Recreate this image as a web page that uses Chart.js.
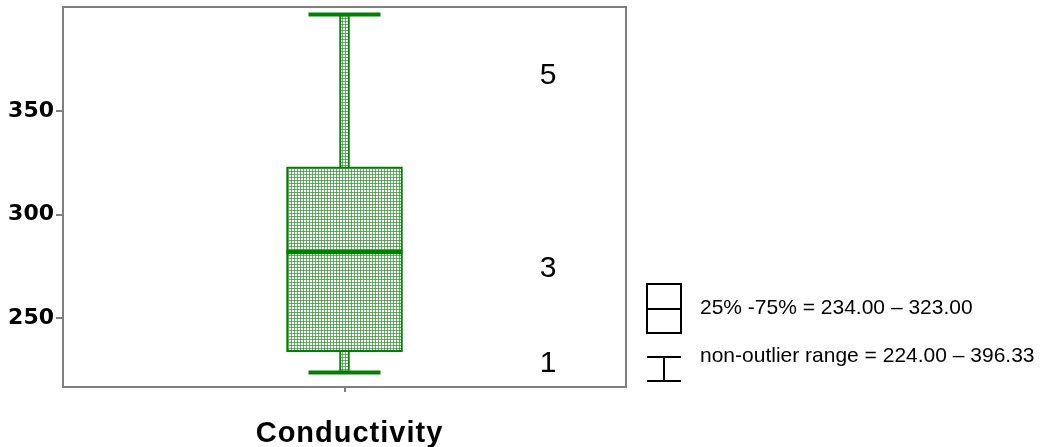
<!DOCTYPE html>
<html>
<head>
<meta charset="utf-8">
<script src="https://cdn.jsdelivr.net/npm/chart.js@4.4.1/dist/chart.umd.min.js"></script>
<style>
  html, body { margin: 0; padding: 0; background: #fff; }
  #wrap { width: 1040px; height: 447px; }
</style>
</head>
<body>
<div id="wrap"><canvas id="boxChart" width="1040" height="447"></canvas></div>
<script>
// Data
const categories = ["Conductivity"];
const q1Values = [234.00];
const q3Values = [323.00];
const medianValues = [282];
const minValues = [224.00];
const maxValues = [396.33];
const yTickValues = [250, 300, 350];
const caseLabels = ["5", "3", "1"];
const caseLabelValues = [363, 270, 224];
const legendTexts = ["25% -75% = 234.00 \u2013 323.00", "non-outlier range = 224.00 \u2013 396.33"];

const green = "#008000";
const frameGrey = "#7f7f7f";
const sansFont = "'Liberation Sans', Arial, sans-serif";

// Checkered green fill like the original hatch
function makePattern() {
  const c = document.createElement("canvas");
  c.width = 3;
  c.height = 3;
  const g = c.getContext("2d");
  g.fillStyle = "#ffffff";
  g.fillRect(0, 0, 3, 3);
  g.fillStyle = "rgb(105,182,105)";
  g.fillRect(0, 0, 3, 1);
  g.fillRect(0, 0, 1, 3);
  g.fillStyle = "rgb(60,150,60)";
  g.fillRect(0, 0, 1, 1);
  return g.createPattern(c, "repeat");
}
const hatch = makePattern();

// Median line, whisker caps, frame, labels, legend, title
const boxExtras = {
  id: "boxExtras",
  beforeDraw(chart) {
    const ctx = chart.ctx;
    ctx.save();
    ctx.fillStyle = "#ffffff";
    ctx.fillRect(0, 0, chart.width, chart.height);
    ctx.restore();
  },
  afterDatasetsDraw(chart) {
    const ctx = chart.ctx;
    const x = chart.scales.x;
    const y = chart.scales.y;
    ctx.save();
    ctx.strokeStyle = green;
    categories.forEach((cat, i) => {
      const cx = x.getPixelForValue(i);
      // median
      ctx.lineWidth = 4.5;
      ctx.beginPath();
      ctx.moveTo(cx - 58, y.getPixelForValue(medianValues[i]));
      ctx.lineTo(cx + 58, y.getPixelForValue(medianValues[i]));
      ctx.stroke();
      // caps
      ctx.lineWidth = 4;
      [minValues[i], maxValues[i]].forEach(v => {
        const py = y.getPixelForValue(v);
        ctx.beginPath();
        ctx.moveTo(cx - 36, py);
        ctx.lineTo(cx + 36, py);
        ctx.stroke();
      });
    });
    ctx.restore();
  },
  afterDraw(chart) {
    const ctx = chart.ctx;
    const a = chart.chartArea;
    const x = chart.scales.x;
    const y = chart.scales.y;
    ctx.save();
    // frame
    ctx.strokeStyle = frameGrey;
    ctx.lineWidth = 2;
    ctx.strokeRect(a.left, a.top, a.right - a.left, a.bottom - a.top);

    // case labels inside the plot
    ctx.fillStyle = "#000";
    ctx.font = "30px " + sansFont;
    ctx.textAlign = "center";
    ctx.textBaseline = "alphabetic";
    caseLabels.forEach((t, i) => {
      ctx.fillText(t, a.right - 78, y.getPixelForValue(caseLabelValues[i]));
    });

    // legend
    const lx = a.right + 21;
    ctx.strokeStyle = "#000";
    ctx.lineWidth = 2;
    ctx.strokeRect(lx, 284, 34, 49);
    ctx.beginPath();
    ctx.moveTo(lx, 309);
    ctx.lineTo(lx + 34, 309);
    ctx.moveTo(lx, 357);
    ctx.lineTo(lx + 34, 357);
    ctx.moveTo(lx + 17, 357);
    ctx.lineTo(lx + 17, 381);
    ctx.moveTo(lx, 381);
    ctx.lineTo(lx + 34, 381);
    ctx.stroke();
    ctx.font = "21px " + sansFont;
    ctx.textAlign = "left";
    ctx.fillText(legendTexts[0], lx + 53, 314);
    ctx.fillText(legendTexts[1], lx + 53, 362);

    // axis title
    ctx.font = "bold 29px " + sansFont;
    ctx.letterSpacing = "1px";
    ctx.textAlign = "center";
    ctx.fillText(categories[0], x.getPixelForValue(0) + 5, 442);
    ctx.restore();
  }
};

const ctx = document.getElementById("boxChart").getContext("2d");
const boxChart = new Chart(ctx, {
  type: "bar",
  data: {
    labels: categories,
    datasets: [
      {
        label: "25% - 75%",
        data: q1Values.map((v, i) => [v, q3Values[i]]),
        backgroundColor: hatch,
        borderColor: green,
        borderWidth: 2,
        borderSkipped: false,
        barThickness: 116,
        grouped: false
      },
      {
        label: "non-outlier range",
        data: minValues.map((v, i) => [v, maxValues[i]]),
        backgroundColor: hatch,
        borderColor: green,
        borderWidth: 2,
        borderSkipped: false,
        barThickness: 10,
        grouped: false
      }
    ]
  },
  options: {
    responsive: false,
    maintainAspectRatio: false,
    animation: false,
    devicePixelRatio: 1,
    layout: { padding: { top: 7, right: 414, left: 0, bottom: 0 } },
    plugins: {
      legend: { display: false },
      tooltip: { enabled: false },
      title: { display: false }
    },
    scales: {
      x: {
        type: "category",
        offset: true,
        grid: { offset: false, drawOnChartArea: false, drawTicks: true, tickLength: 5, color: frameGrey, lineWidth: 2 },
        border: { display: false },
        ticks: { display: false },
        afterFit: s => { s.height = 60; s.paddingLeft = 0; s.paddingRight = 0; }
      },
      y: {
        min: 217,
        max: 400,
        grid: { drawOnChartArea: false, drawTicks: true, tickLength: 7, color: frameGrey, lineWidth: 2 },
        border: { display: false },
        ticks: {
          color: "#000",
          padding: 2,
          font: { family: "'DejaVu Sans'", size: 22, weight: "bold" }
        },
        afterBuildTicks: s => { s.ticks = yTickValues.map(v => ({ value: v })); },
        afterFit: s => { s.width = 63; s.paddingTop = 0; s.paddingBottom = 0; }
      }
    }
  },
  plugins: [boxExtras]
});
</script>
</body>
</html>
